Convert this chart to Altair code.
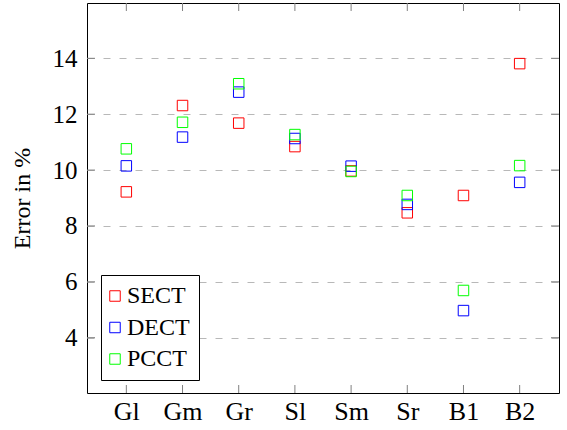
import altair as alt
import pandas as pd

categories = ["Gl", "Gm", "Gr", "Sl", "Sm", "Sr", "B1", "B2"]
sect = [9.22, 12.31, 11.68, 10.84, 9.97, 8.47, 9.09, 13.81]
dect = [10.15, 11.18, 12.79, 11.13, 10.14, 8.77, 4.97, 9.56]
pcct = [10.76, 11.71, 13.09, 11.27, 9.95, 9.09, 5.69, 10.16]
series = ["SECT", "DECT", "PCCT"]
colors = ["#ff0000", "#0000ff", "#00ff00"]
yticks = [4, 6, 8, 10, 12, 14]

rows = []
for s, vals in zip(series, [sect, dect, pcct]):
    for c, v in zip(categories, vals):
        rows.append({"cat": c, "series": s, "value": v, "order": series.index(s)})
df = pd.DataFrame(rows)
ticks_df = pd.DataFrame({"t": yticks})
cats_df = pd.DataFrame({"cat": categories})

W, H = 472, 390
FONT = "Liberation Serif"

xscale = alt.Scale(type="point", domain=categories, padding=0.7)
yscale = alt.Scale(domain=[2.02, 15.98], nice=False, zero=False)

xaxis = alt.Axis(title=None, labelAngle=0, ticks=False, tickSize=0, domain=False, grid=False,
                 labelFont=FONT, labelFontSize=26, labelColor="black", labelPadding=5)
yaxis = alt.Axis(title="Error in %", values=yticks, ticks=False, tickSize=0, domain=False,
                 grid=True, gridColor="#b8b8b8", gridDash=[7, 9], gridWidth=1,
                 labelFont=FONT, labelFontSize=25, labelColor="black", labelPadding=10,
                 titleFont=FONT, titleFontSize=24, titleFontWeight="normal",
                 titleColor="black", titlePadding=18)

points = alt.Chart(df).mark_point(shape="square", filled=False, size=110, strokeWidth=1, opacity=1).encode(
    x=alt.X("cat:N", scale=xscale, sort=categories, axis=xaxis),
    y=alt.Y("value:Q", scale=yscale, axis=yaxis),
    color=alt.Color("series:N", scale=alt.Scale(domain=series, range=colors),
                    legend=alt.Legend(title=None, orient="none", legendX=14, legendY=272,
                                      symbolType="square", symbolSize=110, symbolStrokeWidth=1,
                                      symbolFillColor="transparent", symbolOffset=-7,
                                      labelFont=FONT, labelFontSize=24, labelColor="black",
                                      labelOffset=0, rowPadding=7.5, padding=9,
                                      strokeColor="black", fillColor="white",
                                      labelExpr="datum.label + '\u00a0'")),
    order=alt.Order("order:Q"),
)

tick_color = "#808080"
yt_left = alt.Chart(ticks_df).mark_rule(color=tick_color, strokeWidth=1).encode(
    y=alt.Y("t:Q", scale=yscale, axis=yaxis), x=alt.value(0), x2=alt.value(8))
yt_right = alt.Chart(ticks_df).mark_rule(color=tick_color, strokeWidth=1).encode(
    y=alt.Y("t:Q", scale=yscale, axis=yaxis), x=alt.value(W - 8), x2=alt.value(W))
xt_bottom = alt.Chart(cats_df).mark_rule(color=tick_color, strokeWidth=1).encode(
    x=alt.X("cat:N", scale=xscale, sort=categories, axis=xaxis), y=alt.value(H - 8), y2=alt.value(H))
xt_top = alt.Chart(cats_df).mark_rule(color=tick_color, strokeWidth=1).encode(
    x=alt.X("cat:N", scale=xscale, sort=categories, axis=xaxis), y=alt.value(0), y2=alt.value(8))

chart = alt.layer(points, yt_left, yt_right, xt_bottom, xt_top).properties(
    width=W, height=H,
    autosize=alt.AutoSizeParams(type="none"),
    padding={"left": 87, "top": 3, "right": 8, "bottom": 37},
).configure(background="white").configure_view(stroke="black", strokeWidth=1)

chart.save("out.html", embed_options={"renderer": "svg", "actions": False})
